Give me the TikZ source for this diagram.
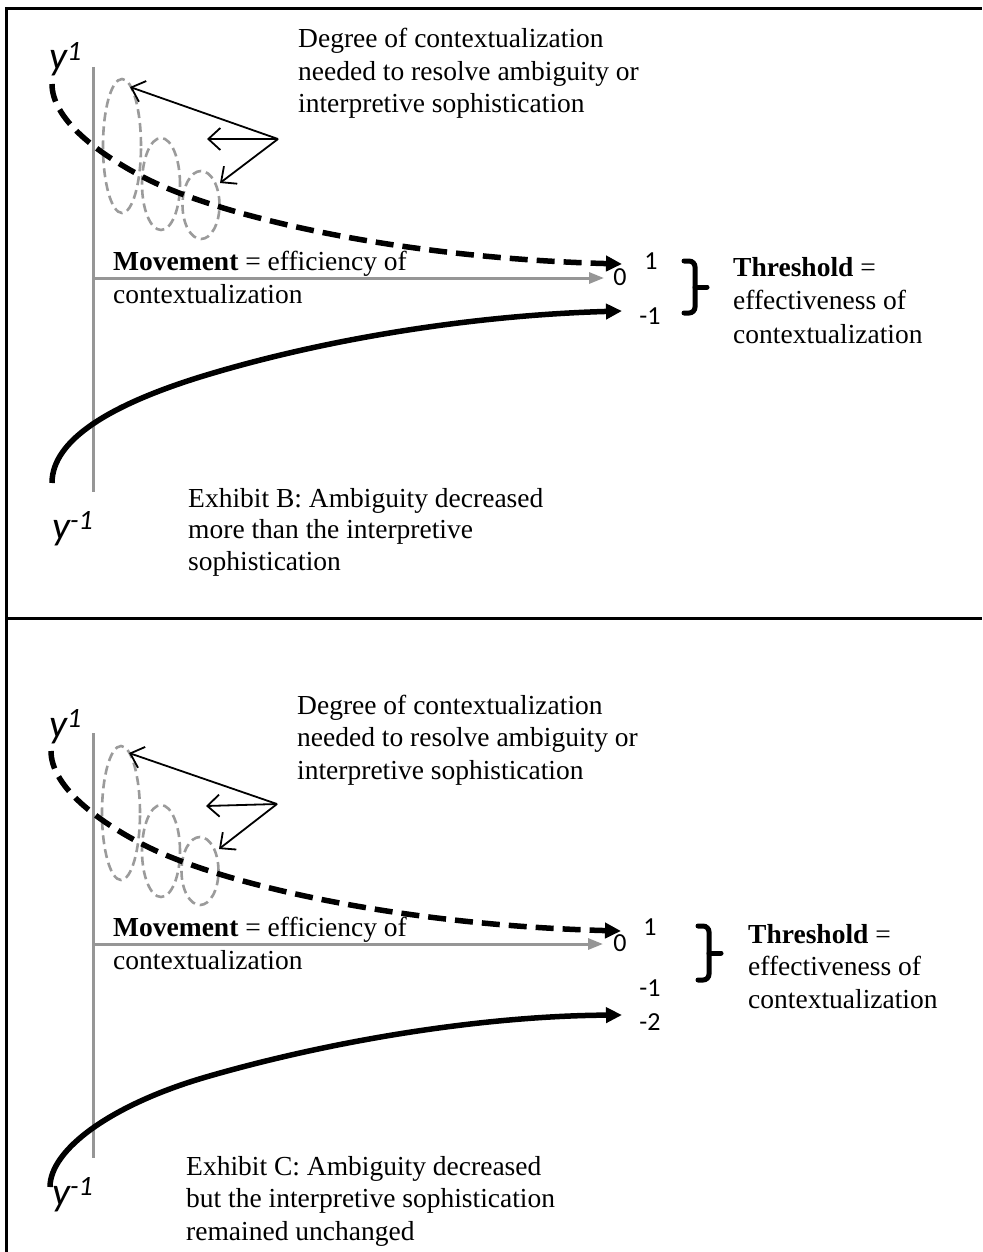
\documentclass[tikz,border=0pt]{standalone}
\usepackage{fontspec}
\setmainfont{Liberation Serif}
\newfontfamily\calibrifont{Carlito}
\usetikzlibrary{arrows.meta}

\definecolor{axisgray}{RGB}{150,150,150}
\definecolor{ringgray}{RGB}{155,155,155}

\begin{document}
\begin{tikzpicture}[x=1pt,y=-1pt,
  frame/.style={line width=3pt,black},
  axisline/.style={line width=3pt,axisgray},
  axisarrow/.style={axisline,-{Triangle[length=15pt,width=11pt]}},
  ring/.style={ringgray,dash pattern=on 9pt off 5pt,line width=2.6pt},
  pointer/.style={line width=1.8pt,-{Straight Barb[length=12pt,width=22pt]}},
  upper/.style={line width=5.5pt,dash pattern=on 18pt off 9pt,-{Triangle[length=16pt,width=15pt]}},
  lower/.style={line width=5.5pt,-{Triangle[length=16pt,width=15pt]}},
  body/.style={font=\fontsize{27.5}{32.5}\selectfont,align=left,anchor=base west,inner sep=0pt},
  num/.style={font=\calibrifont\fontsize{26}{30}\selectfont,inner sep=0pt},
  ylab/.style={font=\calibrifont\itshape\fontsize{40}{44}\selectfont,inner sep=0pt,anchor=base west},
  bracket/.style={line width=5pt,rounded corners=6pt,line cap=round}
]
\useasboundingbox (0,0) rectangle (982,1252);

% frame and panel separator
\draw[frame] (6,1252) -- (6,9) -- (982,9);
\draw[frame] (6,618) -- (982,618);

% ---------------- upper panel ----------------
\coordinate (aT) at (93,67);
\coordinate (aB) at (93,492);
\coordinate (aO) at (93,278);
\coordinate (aE) at (604,278);
\draw[axisline] (aT) -- (aB);
\draw[axisarrow] (aO) -- (aE);

\node[ylab] (ytopA) at (49,70) {y\textsuperscript{1}};
\node[ylab] (ybotA) at (52,539) {y\textsuperscript{-1}};

\draw[ring] (122,146) ellipse [x radius=19pt, y radius=67pt];
\draw[ring] (161,184) ellipse [x radius=19pt, y radius=46pt];
\draw[ring] (201,205) ellipse [x radius=18.5pt, y radius=34pt];

\coordinate (hubA) at (278,139);
\coordinate (p1A) at (130,87);
\coordinate (p2A) at (207,139);
\coordinate (p3A) at (220,183);
\draw[pointer] (hubA) -- (p1A);
\draw[pointer] (hubA) -- (p2A);
\draw[pointer] (hubA) -- (p3A);

\coordinate (dsA) at (52,84);
\coordinate (dmA) at (143,177);
\coordinate (deA) at (622,264);
\draw[upper] (dsA) .. controls (52,118) and (95,152) .. (dmA)
                   .. controls (220,217) and (400,258) .. (deA);
\coordinate (ssA) at (52,483);
\coordinate (smA) at (200,377);
\coordinate (seA) at (622,311);
\draw[lower] (ssA) .. controls (52,440) and (110,405) .. (smA)
                   .. controls (330,337) and (480,315) .. (seA);

\node[body] (degA) at (298,113) {Degree of contextualization\\needed to resolve ambiguity or\\interpretive sophistication};
\node[body] (movA) at (113,303) {\textbf{Movement} = efficiency of\\contextualization};
\node[body,font=\fontsize{27.5}{31.5}\selectfont] (exA) at (188,570) {Exhibit B: Ambiguity decreased\\more than the interpretive\\sophistication};

\node[num] (n1A) at (651,261) {1};
\node[num] (n0A) at (620,277) {0};
\node[num] (nm1A) at (650,316) {-1};

\coordinate (brTA) at (684,261);
\coordinate (brBA) at (684,313);
\coordinate (brMA) at (695,287);
\coordinate (brPA) at (707,287);
\draw[bracket] (brTA) -- (695,261) -- (695,313) -- (brBA);
\draw[bracket] (brMA) -- (brPA);
\node[body,font=\fontsize{27.5}{33.5}\selectfont] (thA) at (733,343) {\textbf{Threshold} =\\effectiveness of\\contextualization};

% ---------------- lower panel ----------------
\coordinate (bT) at (93,733);
\coordinate (bB) at (93,1158);
\coordinate (bO) at (93,944);
\coordinate (bE) at (603,944);
\draw[axisline] (bT) -- (bB);
\draw[axisarrow] (bO) -- (bE);

\node[ylab] (ytopB) at (49,737) {y\textsuperscript{1}};
\node[ylab] (ybotB) at (52,1205) {y\textsuperscript{-1}};

\draw[ring] (121,813) ellipse [x radius=19pt, y radius=67pt];
\draw[ring] (161,851) ellipse [x radius=19pt, y radius=46pt];
\draw[ring] (200,871) ellipse [x radius=18.5pt, y radius=34pt];

\coordinate (hubB) at (277,804);
\coordinate (p1B) at (129,753);
\coordinate (p2B) at (206,806);
\coordinate (p3B) at (219,849);
\draw[pointer] (hubB) -- (p1B);
\draw[pointer] (hubB) -- (p2B);
\draw[pointer] (hubB) -- (p3B);

\coordinate (dsB) at (51,751);
\coordinate (dmB) at (142,844);
\coordinate (deB) at (621,931);
\draw[upper] (dsB) .. controls (51,785) and (94,819) .. (dmB)
                   .. controls (219,884) and (399,925) .. (deB);
\coordinate (ssB) at (50,1187);
\coordinate (smB) at (206,1077);
\coordinate (seB) at (622,1015);
\draw[lower] (ssB) .. controls (50,1150) and (110,1105) .. (smB)
                   .. controls (330,1041) and (480,1016) .. (seB);

\node[body] (degB) at (297,779) {Degree of contextualization\\needed to resolve ambiguity or\\interpretive sophistication};
\node[body] (movB) at (113,969) {\textbf{Movement} = efficiency of\\contextualization};
\node[body] (exB) at (186,1240) {Exhibit C: Ambiguity decreased\\but the interpretive sophistication\\remained unchanged};

\node[num] (n1B) at (650,927) {1};
\node[num] (n0B) at (620,943) {0};
\node[num] (nm1B) at (650,988) {-1};
\node[num] (nm2B) at (650,1022) {-2};

\coordinate (brTB) at (698,926);
\coordinate (brBB) at (698,980);
\coordinate (brMB) at (709,953);
\coordinate (brPB) at (721,953);
\draw[bracket] (brTB) -- (709,926) -- (709,980) -- (brBB);
\draw[bracket] (brMB) -- (brPB);
\node[body] (thB) at (748,1008) {\textbf{Threshold} =\\effectiveness of\\contextualization};

\end{tikzpicture}
\end{document}
